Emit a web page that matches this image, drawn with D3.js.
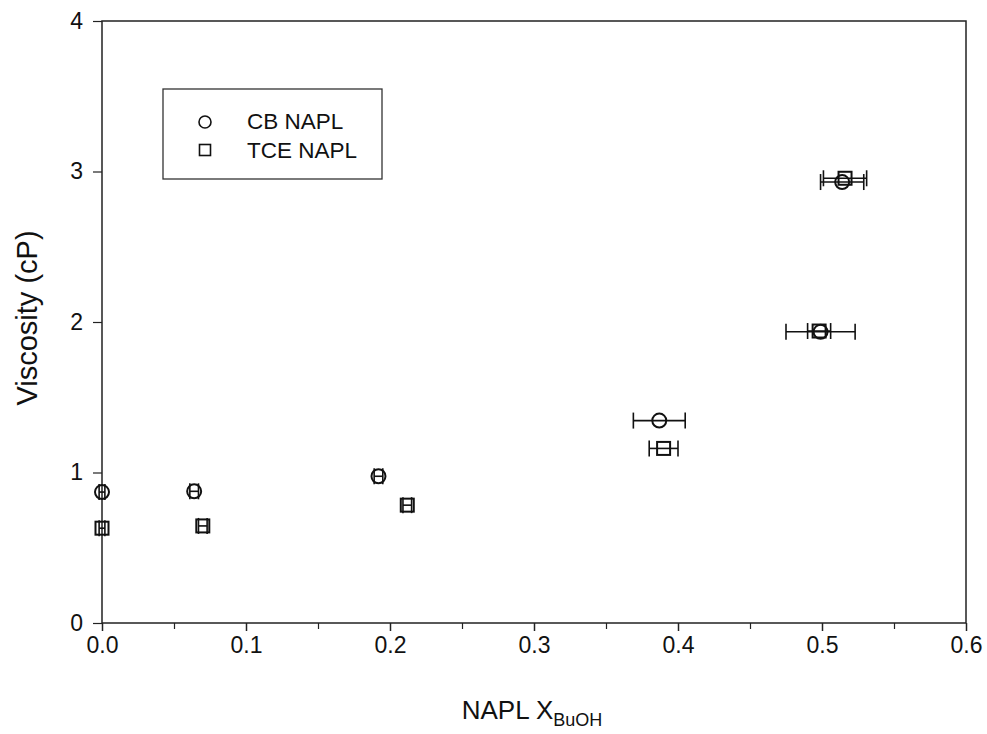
<!DOCTYPE html>
<html>
<head>
<meta charset="utf-8">
<script src="https://cdn.jsdelivr.net/npm/d3@7"></script>
<style>
  body { margin: 0; background: #fff; }
  svg { display: block; font-family: "Liberation Sans", Arial, sans-serif; }
</style>
</head>
<body>
<svg id="chart" width="987" height="734"></svg>
<script>
// CB NAPL: x, viscosity, x error
let cbX = [0.0, 0.064, 0.192, 0.387, 0.499, 0.514];
let cbY = [0.87, 0.875, 0.975, 1.345, 1.935, 2.93];
let cbErr = [0.002, 0.003, 0.003, 0.018, 0.024, 0.015];

// TCE NAPL
let tceX = [0.0, 0.070, 0.212, 0.390, 0.498, 0.516];
let tceY = [0.63, 0.645, 0.783, 1.16, 1.94, 2.955];
let tceErr = [0.002, 0.003, 0.003, 0.010, 0.008, 0.015];

let xTicks = [0.0, 0.1, 0.2, 0.3, 0.4, 0.5, 0.6];
let xMinor = [0.05, 0.15, 0.25, 0.35, 0.45, 0.55];
let yTicks = [0, 1, 2, 3, 4];

let margin = { top: 21, right: 21, bottom: 111, left: 102 };
let svg = d3.select("#chart");
let width = +svg.attr("width");
let height = +svg.attr("height");
let w = width - margin.left - margin.right;
let h = height - margin.top - margin.bottom;

let xScale = d3.scaleLinear().domain([0, 0.6]).range([0, w]);
let yScale = d3.scaleLinear().domain([0, 4]).range([h, 0]);

let g = svg.append("g").attr("transform", `translate(${margin.left}, ${margin.top})`);

// frame
g.append("rect")
    .attr("width", w).attr("height", h)
    .attr("fill", "none").attr("stroke", "#222").attr("stroke-width", 1.5);

let xAxis = d3.axisBottom(xScale).tickValues(xTicks).tickFormat(d3.format(".1f")).tickSize(8).tickPadding(6);
let gx = g.append("g").attr("transform", `translate(0, ${h})`).call(xAxis);
gx.select(".domain").remove();
gx.selectAll(".tick line").attr("stroke", "#222").attr("stroke-width", 1.5);
gx.selectAll(".tick text").attr("font-size", 23).attr("fill", "#111");

let gxm = g.append("g").attr("transform", `translate(0, ${h})`)
    .call(d3.axisBottom(xScale).tickValues(xMinor).tickSize(6).tickFormat(""));
gxm.select(".domain").remove();
gxm.selectAll(".tick line").attr("stroke", "#222").attr("stroke-width", 1.2);

let yAxis = d3.axisLeft(yScale).tickValues(yTicks).tickFormat(d3.format("d")).tickSize(9).tickPadding(10);
let gy = g.append("g").call(yAxis);
gy.select(".domain").remove();
gy.selectAll(".tick line").attr("stroke", "#222").attr("stroke-width", 1.2);
gy.selectAll(".tick text").attr("font-size", 23).attr("fill", "#111");

// axis titles
let xt = svg.append("text")
    .attr("x", 532).attr("y", 719)
    .attr("text-anchor", "middle")
    .attr("font-size", 26).attr("fill", "#111");
xt.append("tspan").text("NAPL X");
xt.append("tspan").attr("font-size", 18).attr("dy", 7).text("BuOH");

svg.append("text")
    .attr("transform", "translate(37, 318) rotate(-90)")
    .attr("text-anchor", "middle")
    .attr("font-size", 29).attr("fill", "#111")
    .text("Viscosity (cP)");

function series(xs, ys, errs, shape) {
    let data = xs.map((x, i) => ({ x: x, y: ys[i], e: errs[i] }));
    let s = g.append("g");
    let eb = s.selectAll("g.err").data(data).enter().append("g").attr("class", "err")
        .attr("stroke", "#111").attr("stroke-width", 1.6);
    eb.append("line")
        .attr("x1", d => xScale(d.x - d.e)).attr("x2", d => xScale(d.x + d.e))
        .attr("y1", d => yScale(d.y)).attr("y2", d => yScale(d.y));
    eb.append("line")
        .attr("x1", d => xScale(d.x - d.e)).attr("x2", d => xScale(d.x - d.e))
        .attr("y1", d => yScale(d.y) - 8).attr("y2", d => yScale(d.y) + 8);
    eb.append("line")
        .attr("x1", d => xScale(d.x + d.e)).attr("x2", d => xScale(d.x + d.e))
        .attr("y1", d => yScale(d.y) - 8).attr("y2", d => yScale(d.y) + 8);

    if (shape === "circle") {
        s.selectAll("circle").data(data).enter().append("circle")
            .attr("cx", d => xScale(d.x)).attr("cy", d => yScale(d.y)).attr("r", 7)
            .attr("fill", "none").attr("stroke", "#111").attr("stroke-width", 2);
    } else {
        s.selectAll("rect.m").data(data).enter().append("rect").attr("class", "m")
            .attr("x", d => xScale(d.x) - 6.5).attr("y", d => yScale(d.y) - 6.5)
            .attr("width", 13).attr("height", 13)
            .attr("fill", "none").attr("stroke", "#111").attr("stroke-width", 2);
    }
}

series(cbX, cbY, cbErr, "circle");
series(tceX, tceY, tceErr, "square");

// legend
let leg = svg.append("g");
leg.append("rect")
    .attr("x", 163).attr("y", 89).attr("width", 219).attr("height", 90)
    .attr("fill", "#fff").attr("stroke", "#333").attr("stroke-width", 1.3);
leg.append("circle").attr("cx", 205).attr("cy", 122).attr("r", 6)
    .attr("fill", "none").attr("stroke", "#111").attr("stroke-width", 1.6);
leg.append("rect").attr("x", 199.5).attr("y", 144.5).attr("width", 11).attr("height", 11)
    .attr("fill", "none").attr("stroke", "#111").attr("stroke-width", 1.6);
leg.append("text").attr("x", 247).attr("y", 129).attr("font-size", 22.5).attr("fill", "#111").text("CB NAPL");
leg.append("text").attr("x", 247).attr("y", 158).attr("font-size", 22.5).attr("fill", "#111").text("TCE NAPL");
</script>
</body>
</html>
